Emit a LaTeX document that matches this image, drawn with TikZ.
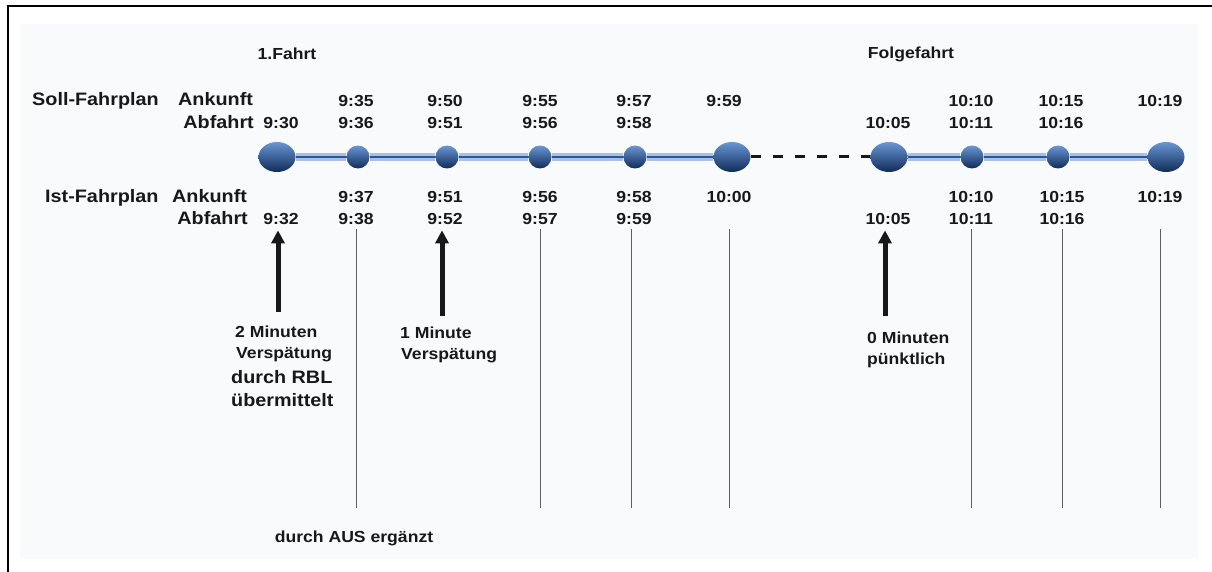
\documentclass[tikz,border=0pt]{standalone}
\usepackage{fontspec}
\setmainfont{Liberation Sans}[FakeStretch=1.1]
\usepackage{tikz}
\usetikzlibrary{shapes.geometric,arrows.meta}

\definecolor{panel}{RGB}{249,250,252}
\definecolor{ink}{RGB}{24,24,26}
\definecolor{balltop}{RGB}{105,150,212}
\definecolor{ballmid}{RGB}{44,104,184}
\definecolor{ballbot}{RGB}{16,44,88}
\definecolor{trackhalo}{RGB}{168,192,228}
\definecolor{trackcore}{RGB}{42,86,156}
\definecolor{linegray}{RGB}{95,95,95}

\tikzset{
  txt/.style={font=\fontsize{16}{19}\selectfont\bfseries, text=ink, inner sep=0pt},
  bigtxt/.style={font=\fontsize{18}{22}\selectfont\bfseries, text=ink, inner sep=0pt},
  zeit/.style={txt, anchor=base},
  halt/.style={circle, minimum size=23pt, inner sep=0pt,
    top color=balltop, middle color=ballmid, bottom color=ballbot},
  endhalt/.style={ellipse, minimum width=37pt, minimum height=30pt, inner sep=0pt,
    top color=balltop, middle color=ballmid, bottom color=ballbot},
  track/.style={draw=trackhalo, double=trackcore, double distance=2.6pt, line width=2.4pt},
  dashlink/.style={draw=ink, line width=3pt, dash pattern=on 10pt off 12pt},
  delay/.style={-{Triangle[width=13pt,length=13pt]}, line width=5pt, draw=ink, shorten >=5pt},
  vline/.style={draw=linegray, line width=1pt}
}

\begin{document}
\begin{tikzpicture}[x=1pt,y=-1pt]
  \useasboundingbox (0,0) rectangle (1212,572);
  \fill[panel] (20,24) rectangle (1198,559);
  \draw[line width=2pt] (7.5,572) -- (7.5,6.5) -- (1212,6.5);

  % headings
  \node[zeit] (fahrt1) at (287,60) {1.Fahrt};
  \node[zeit] (folge) at (911,59) {Folgefahrt};
  \node[bigtxt, anchor=base west] (soll) at (32,106) {Soll-Fahrplan};
  \node[bigtxt, anchor=base west] (sollan) at (178,106) {Ankunft};
  \node[bigtxt, anchor=base east] (sollab) at (254,129) {Abfahrt};
  \node[bigtxt, anchor=base west] (ist) at (45,203) {Ist-Fahrplan};
  \node[bigtxt, anchor=base west] (istan) at (172,203) {Ankunft};
  \node[bigtxt, anchor=base east] (istab) at (248,225) {Abfahrt};

  % stations
  \node[endhalt] (h1) at (277,157) {};
  \node[halt] (h2) at (358,157) {};
  \node[halt] (h3) at (447,157) {};
  \node[halt] (h4) at (540,157) {};
  \node[halt] (h5) at (635,157) {};
  \node[endhalt] (h6) at (732,157) {};
  \node[endhalt] (h7) at (889,157) {};
  \node[halt] (h8) at (972,157) {};
  \node[halt] (h9) at (1058,157) {};
  \node[endhalt] (h10) at (1166,157) {};

  \draw[track] (h1) -- (h2) -- (h3) -- (h4) -- (h5) -- (h6);
  \draw[dashlink] (h6) -- (h7);
  \draw[track] (h7) -- (h8) -- (h9) -- (h10);

  % Soll: Ankunft / Abfahrt
  \node[zeit] (sa2) at (356,107) {9:35};
  \node[zeit] (sa3) at (445,107) {9:50};
  \node[zeit] (sa4) at (540,107) {9:55};
  \node[zeit] (sa5) at (634,107) {9:57};
  \node[zeit] (sa6) at (724,107) {9:59};
  \node[zeit] (sa8) at (971,107) {10:10};
  \node[zeit] (sa9) at (1061,107) {10:15};
  \node[zeit] (sa10) at (1160,107) {10:19};

  \node[zeit] (sb1) at (281,129) {9:30};
  \node[zeit] (sb2) at (356,129) {9:36};
  \node[zeit] (sb3) at (445,129) {9:51};
  \node[zeit] (sb4) at (540,129) {9:56};
  \node[zeit] (sb5) at (634,129) {9:58};
  \node[zeit] (sb7) at (888,129) {10:05};
  \node[zeit] (sb8) at (971,129) {10:11};
  \node[zeit] (sb9) at (1061,129) {10:16};

  % Ist: Ankunft / Abfahrt
  \node[zeit] (ia2) at (356,203) {9:37};
  \node[zeit] (ia3) at (445,203) {9:51};
  \node[zeit] (ia4) at (540,203) {9:56};
  \node[zeit] (ia5) at (634,203) {9:58};
  \node[zeit] (ia6) at (729,203) {10:00};
  \node[zeit] (ia8) at (971,203) {10:10};
  \node[zeit] (ia9) at (1062,203) {10:15};
  \node[zeit] (ia10) at (1160,203) {10:19};

  \node[zeit] (ib1) at (281,225) {9:32};
  \node[zeit] (ib2) at (356,225) {9:38};
  \node[zeit] (ib3) at (445,225) {9:52};
  \node[zeit] (ib4) at (540,225) {9:57};
  \node[zeit] (ib5) at (634,225) {9:59};
  \node[zeit] (ib7) at (888,225) {10:05};
  \node[zeit] (ib8) at (971,225) {10:11};
  \node[zeit] (ib9) at (1062,225) {10:16};

  % lines down to "durch AUS ergaenzt"
  \coordinate (ltop) at (0,229);
  \coordinate (lbot) at (0,508);
  \draw[vline] (ib2.south |- ltop) -- (ib2.south |- lbot);
  \draw[vline] (ib4.south |- ltop) -- (ib4.south |- lbot);
  \draw[vline] ([xshift=-3pt]ib5.south |- ltop) -- ([xshift=-3pt]ib5.south |- lbot);
  \draw[vline] (ia6.south |- ltop) -- (ia6.south |- lbot);
  \draw[vline] (ib8.south |- ltop) -- (ib8.south |- lbot);
  \draw[vline] (ib9.south |- ltop) -- (ib9.south |- lbot);
  \draw[vline] (ia10.south |- ltop) -- (ia10.south |- lbot);

  % delays
  \node[txt, anchor=base west] (rbl1) at (235,337) {2 Minuten};
  \node[txt, anchor=base west] (rbl2) at (236,358) {Verspätung};
  \node[bigtxt, anchor=base west] (rbl3) at (231,383) {durch RBL};
  \node[bigtxt, anchor=base west] (rbl4) at (231,406) {übermittelt};
  \node[txt, anchor=base west] (min1a) at (400,338) {1 Minute};
  \node[txt, anchor=base west] (min1b) at (401,359) {Verspätung};
  \node[txt, anchor=base west] (min0a) at (867,343) {0 Minuten};
  \node[txt, anchor=base west] (min0b) at (867,364) {pünktlich};
  \node[zeit] (aus) at (354,542) {durch AUS ergänzt};

  \coordinate (d1) at (278,312);
  \coordinate (d2) at (442,316);
  \coordinate (d3) at (885,316);
  \draw[delay] (d1) -- (d1 |- ib1.south);
  \draw[delay] (d2) -- (d2 |- ib3.south);
  \draw[delay] (d3) -- (d3 |- ib7.south);
\end{tikzpicture}
\end{document}
